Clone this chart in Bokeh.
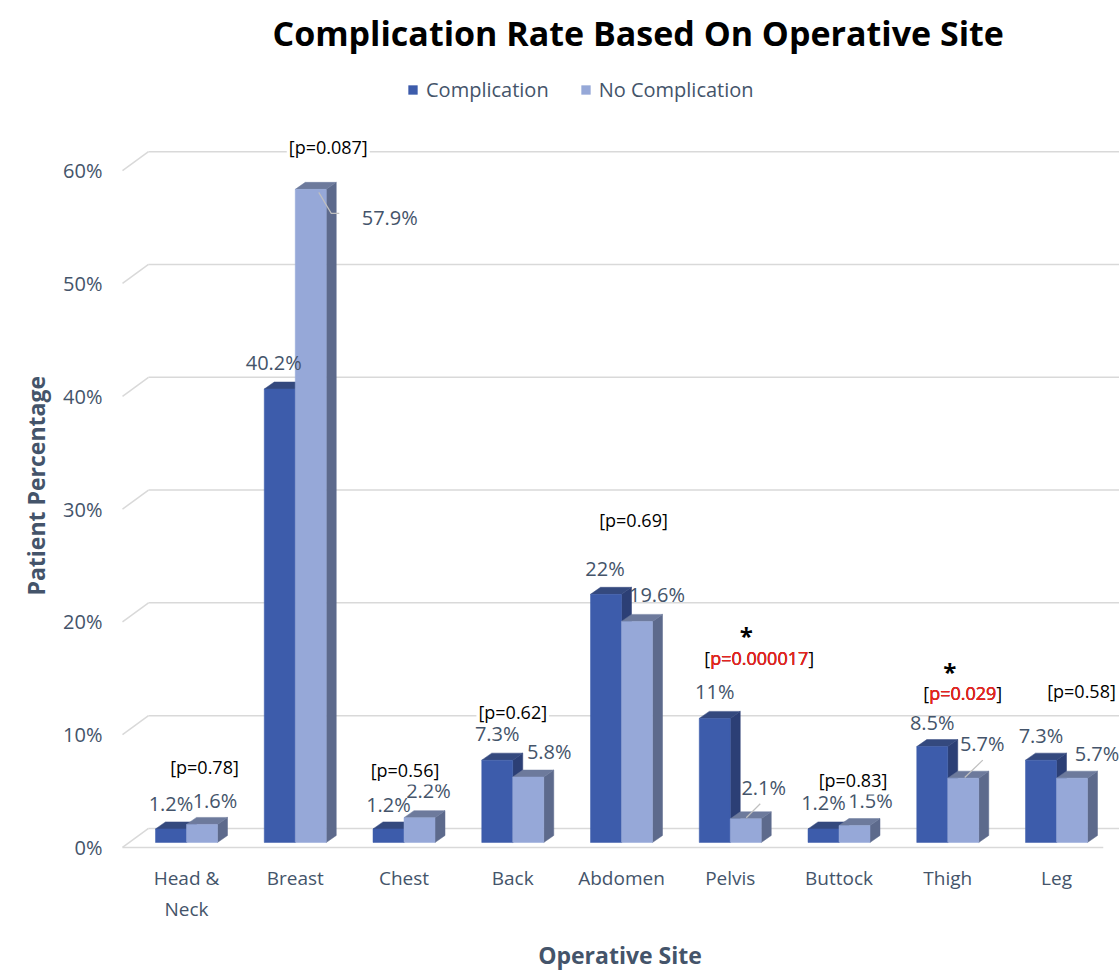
from bokeh.plotting import figure
from bokeh.models import Range1d, FixedTicker, Legend, LegendItem, ColumnDataSource, Title
from bokeh.core.properties import value
from bokeh.embed import file_html
from bokeh.resources import INLINE

# ---------------- data ----------------
sites = ["Head &\nNeck", "Breast", "Chest", "Back", "Abdomen", "Pelvis", "Buttock", "Thigh", "Leg"]
complication = [1.2, 40.2, 1.2, 7.3, 22, 11, 1.2, 8.5, 7.3]
no_complication = [1.6, 57.9, 2.2, 5.8, 19.6, 2.1, 1.5, 5.7, 5.7]
p_values = ["0.78", "0.087", "0.56", "0.62", "0.69", "0.000017", "0.83", "0.029", "0.58"]
significant = [False, False, False, False, False, True, False, True, False]
y_ticks = [0, 10, 20, 30, 40, 50, 60]

# ---------------- layout (pixel offsets of annotations) ----------------
comp_lab_dx = [0, -6, 0, 0, -1, 0, 0, 0, 0]
comp_lab_dy = [-25, -27, -24, -27, -26, -27, -26, -24, -25]
nocomp_lab_dx = [13, 79, 9, 21, 20, 18, 16, 19, 25]
nocomp_lab_dy = [-24, 28, -27, -26, -27, -31, -25, -35, -25]
p_lab_dx = [18, 33, 1, 0, 12, 29, 14, 15, 25]
p_lab_y = [7.09, 62.06, 6.83, 11.97, 29.0, 16.84, 5.94, 13.65, 13.83]
leader_sites = [1, 5, 7]
leader_pts = {1: [(8, 3), (20.5, 24), (28.5, 24)], 5: [(0.5, -1), (14.5, -15)], 7: [(1.5, -0.7), (19.5, -18)]}

W, H = 1119, 973
LEFT, TOP, BOTTOM = 120, 60, 124
FW, FH = W - LEFT, H - TOP - BOTTOM
PX_X = 108.75
PX_Y = 11.28
x0 = 0.5 - (186 - LEFT) / PX_X
x1 = x0 + FW / PX_X
y0 = -0.18
y1 = y0 + FH / PX_Y

TEXT = "#44546a"
GRID = "#d9d9d9"
C_FRONT, C_TOP, C_SIDE = "#3d5cab", "#34497e", "#2c3f75"
N_FRONT, N_TOP, N_SIDE = "#96a8d8", "#6d7a9c", "#5d6a8c"
FONT = "Open Sans"

p = figure(width=W, height=H,
           x_range=Range1d(x0, x1), y_range=Range1d(y0, y1),
           min_border_left=LEFT, min_border_right=0, min_border_top=TOP, min_border_bottom=BOTTOM,
           output_backend="svg", toolbar_location=None)
p.outline_line_color = None
p.xgrid.visible = False
p.ygrid.visible = False

p.title.text = "Complication Rate Based On Operative Site"
p.title.text_font = FONT
p.title.text_font_size = "34px"
p.title.text_font_style = "bold"
p.title.text_color = "black"
p.title.align = "left"
p.title.offset = 152

n = len(sites)
centers = [i + 0.5 for i in range(n)]
BW = 31 / PX_X
DX, DY = 10 / PX_X, 7 / PX_Y
MID = 5 / PX_Y
BACK_X, BACK_Y = 26 / PX_X, 19 / PX_Y
FRONT_X = x0 + 2 / PX_X

# gridlines (back wall + left diagonal)
gx0, gx1, gy0, gy1 = [], [], [], []
for t in y_ticks:
    gx0 += [FRONT_X, FRONT_X + BACK_X]
    gy0 += [t, t + BACK_Y]
    gx1 += [FRONT_X + BACK_X, x1]
    gy1 += [t + BACK_Y, t + BACK_Y]
gx0.append(FRONT_X); gy0.append(0); gx1.append(8.93); gy1.append(0)
p.segment(gx0, gy0, gx1, gy1, line_color=GRID, line_width=1.5)


def bars(xl, vals, front, top, side):
    xr = [a + BW for a in xl]
    tops = [v + MID for v in vals]
    p.patches([[b, b + DX, b + DX, b] for b in xr],
              [[MID, MID + DY, t + DY, t] for t in tops],
              fill_color=side, line_color=side, line_width=0.5)
    p.patches([[a, b, b + DX, a + DX] for a, b in zip(xl, xr)],
              [[t, t, t + DY, t + DY] for t in tops],
              fill_color=top, line_color=top, line_width=0.5)
    return p.vbar(x=[a + BW / 2 for a in xl], width=BW, bottom=MID, top=tops,
                  fill_color=front, line_color=front, line_width=0.5)


r_c = bars([c - BW for c in centers], complication, C_FRONT, C_TOP, C_SIDE)
r_n = bars(list(centers), no_complication, N_FRONT, N_TOP, N_SIDE)

for i in leader_sites:
    pts = leader_pts[i]
    bx = centers[i] + BW / 2
    by = no_complication[i] + MID
    p.line([bx + dx / PX_X for dx, dy in pts], [by - dy / PX_Y for dx, dy in pts],
           line_color="#bfbfbf", line_width=1.2)


def fmt(v):
    return f"{v:g}%"


src_c = ColumnDataSource(dict(x=[c - BW / 2 for c in centers], y=[v + MID for v in complication],
                              t=[fmt(v) for v in complication], dx=comp_lab_dx, dy=comp_lab_dy))
src_n = ColumnDataSource(dict(x=[c + BW / 2 for c in centers], y=[v + MID for v in no_complication],
                              t=[fmt(v) for v in no_complication], dx=nocomp_lab_dx, dy=nocomp_lab_dy))
for s in (src_c, src_n):
    p.text(x="x", y="y", text="t", x_offset="dx", y_offset="dy", source=s,
           text_font=value(FONT), text_font_size="20px", text_color=TEXT,
           text_align="center", text_baseline="middle")

src_p = ColumnDataSource(dict(x=centers, y=p_lab_y, dx=p_lab_dx,
                              t=[f"[p={pv}]" for pv in p_values]))
p.text(x="x", y="y", text="t", x_offset="dx", source=src_p,
       text_font=value(FONT), text_font_size="18px", text_color="black",
       text_align="center", text_baseline="middle",
       background_fill_color="white", padding=2)
sig_idx = [i for i in range(n) if significant[i]]
src_s = ColumnDataSource(dict(x=[centers[i] for i in sig_idx], y=[p_lab_y[i] for i in sig_idx],
                              dx=[p_lab_dx[i] for i in sig_idx],
                              t=[f"p={p_values[i]}" for i in sig_idx]))
for _ in range(2):
    p.text(x="x", y="y", text="t", x_offset="dx", source=src_s,
           text_font=value(FONT), text_font_size="18px", text_color="#e8231e",
           text_align="center", text_baseline="middle")
src_star = ColumnDataSource(dict(x=[centers[i] for i in sig_idx], y=[p_lab_y[i] for i in sig_idx],
                                 dx=[p_lab_dx[i] - 13 for i in sig_idx], t=["*"] * len(sig_idx)))
p.text(x="x", y="y", text="t", x_offset="dx", y_offset=-22, source=src_star,
       text_font=value(FONT), text_font_size="24px", text_font_style="bold", text_color="black",
       text_align="center", text_baseline="middle")

# axes
p.xaxis.ticker = FixedTicker(ticks=centers)
p.xaxis.major_label_overrides = {c: s for c, s in zip(centers, sites)}
p.yaxis.ticker = FixedTicker(ticks=y_ticks)
p.yaxis.major_label_overrides = {t: f"{t}%" for t in y_ticks}
for ax in (p.xaxis[0], p.yaxis[0]):
    ax.axis_line_color = None
    ax.major_tick_line_color = None
    ax.minor_tick_line_color = None
    ax.major_label_text_font = FONT
    ax.major_label_text_color = TEXT
    ax.axis_label_text_font = FONT
    ax.axis_label_text_font_size = "23px"
    ax.axis_label_text_font_style = "bold"
    ax.axis_label_text_color = TEXT
p.xaxis.major_label_text_font_size = "19px"
p.yaxis.major_label_text_font_size = "20px"
p.xaxis.axis_label = "Operative Site"
p.xaxis.major_label_standoff = 9
p.xaxis.axis_label_standoff = 14
p.yaxis.major_label_standoff = 12

# y-axis title placed along the plotting region
p.add_layout(Title(text="Patient Percentage", align="left", offset=254, standoff=18,
                   text_font=FONT, text_font_size="23px", text_font_style="bold",
                   text_color=TEXT), "left")

legend = Legend(items=[LegendItem(label="Complication", renderers=[r_c]),
                       LegendItem(label="No Complication", renderers=[r_n])],
                orientation="horizontal", location=(287, FH - 31 - 12),
                glyph_width=11, glyph_height=11, label_standoff=8, spacing=31,
                padding=0, margin=0, border_line_color=None, background_fill_alpha=0,
                label_text_font=FONT, label_text_font_size="20px", label_text_color=TEXT)
p.add_layout(legend)

open("out.html", "w").write(file_html(p, INLINE))
